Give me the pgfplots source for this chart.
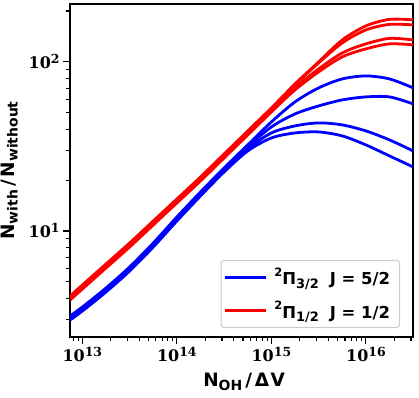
\documentclass[border=0pt]{standalone}
\usepackage[no-math]{fontspec}
\setmainfont{DejaVu Sans}
\newfontfamily\serifnum{DejaVu Serif}
\usepackage{pgfplots}
\pgfplotsset{compat=1.18}

% subscript / power-of-ten helpers
\newcommand{\sub}[1]{\raisebox{-0.35ex}{\fontsize{14}{14}\selectfont #1}}
\newcommand{\lsub}[1]{\raisebox{-0.35ex}{\fontsize{13}{13}\selectfont #1}}
\newcommand{\lsup}[1]{\raisebox{0.9ex}{\fontsize{11.5}{11.5}\selectfont #1}}
\newcommand{\tp}[1]{{\serifnum\bfseries 10\raisebox{5bp}{\fontsize{12.5}{12.5}\selectfont #1}}}

\begin{document}
\begin{tikzpicture}
\begin{axis}[
    name=ax,
    xmode=log, ymode=log,
    scale only axis,
    width=343bp, height=333bp,
    xmin=7.4e12, xmax=3.15e16,
    ymin=2.36, ymax=220,
    xtick={1e13,1e14,1e15,1e16},
    xticklabels={\tp{13},\tp{14},\tp{15},\tp{16}},
    ytick={10,100},
    yticklabels={\tp{1},\tp{2}},
    minor xtick={8e12,9e12,2e13,3e13,4e13,5e13,6e13,7e13,8e13,9e13,
                 2e14,3e14,4e14,5e14,6e14,7e14,8e14,9e14,
                 2e15,3e15,4e15,5e15,6e15,7e15,8e15,9e15,2e16,3e16},
    minor ytick={3,4,5,6,7,8,9,20,30,40,50,60,70,80,90,200},
    tick align=outside,
    xtick pos=bottom, ytick pos=left,
    major tick length=7bp, minor tick length=4bp,
    every tick/.style={black, line width=1.1bp},
    axis line style={line width=1.4bp},
    ticklabel style={font=\fontsize{16}{16}\selectfont},
    xlabel={N\sub{OH}\hspace{3bp}/\hspace{3bp}Δ\hspace{1.5bp}V},
    ylabel={N\sub{with}\hspace{3bp}/\hspace{3bp}N\sub{without}},
    label style={font=\fontsize{18.5}{20}\selectfont\bfseries, inner sep=0pt},
    xlabel style={at={(axis description cs:0.388,-0.150)}, anchor=base west},
    ylabel style={at={(axis description cs:-0.163,0.5)}, anchor=base},
    legend cell align=left,
    legend image code/.code={\draw[#1] (0bp,0bp) -- (41bp,0bp);},
    legend style={at={(rel axis cs:1,0)}, anchor=south east,
        xshift=-13bp, yshift=9bp, draw=black!20, rounded corners=3bp,
        line width=1bp, fill=white,
        font=\fontsize{16.5}{18}\selectfont\bfseries,
        inner xsep=3bp, inner ysep=6bp, row sep=11bp,
        nodes={inner xsep=6.5bp}},
]

% 2Pi_3/2 J=5/2 (blue)
\addplot[blue, line width=2.8bp, smooth] coordinates {
 (7.41e12,3.141) (1e13,3.551) (1.778e13,4.600) (3.162e13,6.124) (5.623e13,8.49)
 (1e14,12.10) (1.778e14,17.01) (3.162e14,23.59) (5.623e14,32.28) (1e15,44.16)
 (1.778e15,58.0) (3.162e15,70.2) (5.623e15,79.3) (1e16,82.6) (1.778e16,79.3) (3.162e16,70.2)
};
\addlegendentry{\lsup{2}Π\lsub{3/2}\hspace{11bp}J = 5/2}
\addplot[blue, line width=2.8bp, smooth, forget plot] coordinates {
 (7.41e12,3.098) (1e13,3.503) (1.778e13,4.538) (3.162e13,6.041) (5.623e13,8.377)
 (1e14,11.94) (1.778e14,16.78) (3.162e14,23.27) (5.623e14,31.41) (1e15,41.25)
 (1.778e15,49.23) (3.162e15,54.90) (5.623e15,59.60) (1e16,62.08) (1.778e16,62.08) (3.162e16,56.43)
};
\addplot[blue, line width=2.8bp, smooth, forget plot] coordinates {
 (7.41e12,3.015) (1e13,3.408) (1.778e13,4.416) (3.162e13,5.878) (5.623e13,8.151)
 (1e14,11.62) (1.778e14,16.33) (3.162e14,22.65) (5.623e14,30.57) (1e15,38.01)
 (1.778e15,41.82) (3.162e15,43.57) (5.623e15,42.39) (1e16,39.06) (1.778e16,34.55) (3.162e16,29.75)
};
\addplot[blue, line width=2.8bp, smooth, forget plot] coordinates {
 (7.41e12,2.975) (1e13,3.362) (1.778e13,4.357) (3.162e13,5.799) (5.623e13,8.04)
 (1e14,11.46) (1.778e14,16.11) (3.162e14,22.35) (5.623e14,29.75) (1e15,35.51)
 (1.778e15,38.01) (3.162e15,38.53) (5.623e15,36.49) (1e16,32.28) (1.778e16,27.78) (3.162e16,23.91)
};

% 2Pi_1/2 J=1/2 (red)
\addplot[red, line width=2.8bp, smooth] coordinates {
 (7.41e12,4.125) (1e13,4.792) (1.778e13,6.378) (3.162e13,8.49) (5.623e13,11.46)
 (1e14,15.46) (1.778e14,20.87) (3.162e14,28.55) (5.623e14,39.06) (1e15,53.43)
 (1.778e15,74.1) (3.162e15,100.0) (5.623e15,134.9) (1e16,163.3) (1.778e16,178.4) (3.162e16,177.2)
};
\addlegendentry{\lsup{2}Π\lsub{1/2}\hspace{11bp}J = 1/2}
\addplot[red, line width=2.8bp, smooth, forget plot] coordinates {
 (7.41e12,4.069) (1e13,4.727) (1.778e13,6.292) (3.162e13,8.377) (5.623e13,11.30)
 (1e14,15.26) (1.778e14,20.59) (3.162e14,28.17) (5.623e14,38.53) (1e15,52.71)
 (1.778e15,73.1) (3.162e15,98.6) (5.623e15,129.5) (1e16,154.6) (1.778e16,166.7) (3.162e16,165.5)
};
\addplot[red, line width=2.8bp, smooth, forget plot] coordinates {
 (7.41e12,3.959) (1e13,4.600) (1.778e13,6.124) (3.162e13,8.151) (5.623e13,11.00)
 (1e14,14.85) (1.778e14,20.04) (3.162e14,27.41) (5.623e14,37.50) (1e15,51.30)
 (1.778e15,70.2) (3.162e15,90.9) (5.623e15,113.0) (1e16,127.8) (1.778e16,137.7) (3.162e16,134.9)
};
\addplot[red, line width=2.8bp, smooth, forget plot] coordinates {
 (7.41e12,3.906) (1e13,4.538) (1.778e13,6.041) (3.162e13,8.04) (5.623e13,10.85)
 (1e14,14.65) (1.778e14,19.76) (3.162e14,27.04) (5.623e14,36.98) (1e15,50.6)
 (1.778e15,68.3) (3.162e15,87.3) (5.623e15,107.1) (1e16,119.4) (1.778e16,127.8) (3.162e16,126.1)
};
\end{axis}
\pgfresetboundingbox
\path[use as bounding box] ([xshift=-70bp,yshift=-60bp]ax.south west) rectangle ([xshift=6bp,yshift=4bp]ax.north east);
\end{tikzpicture}
\end{document}
